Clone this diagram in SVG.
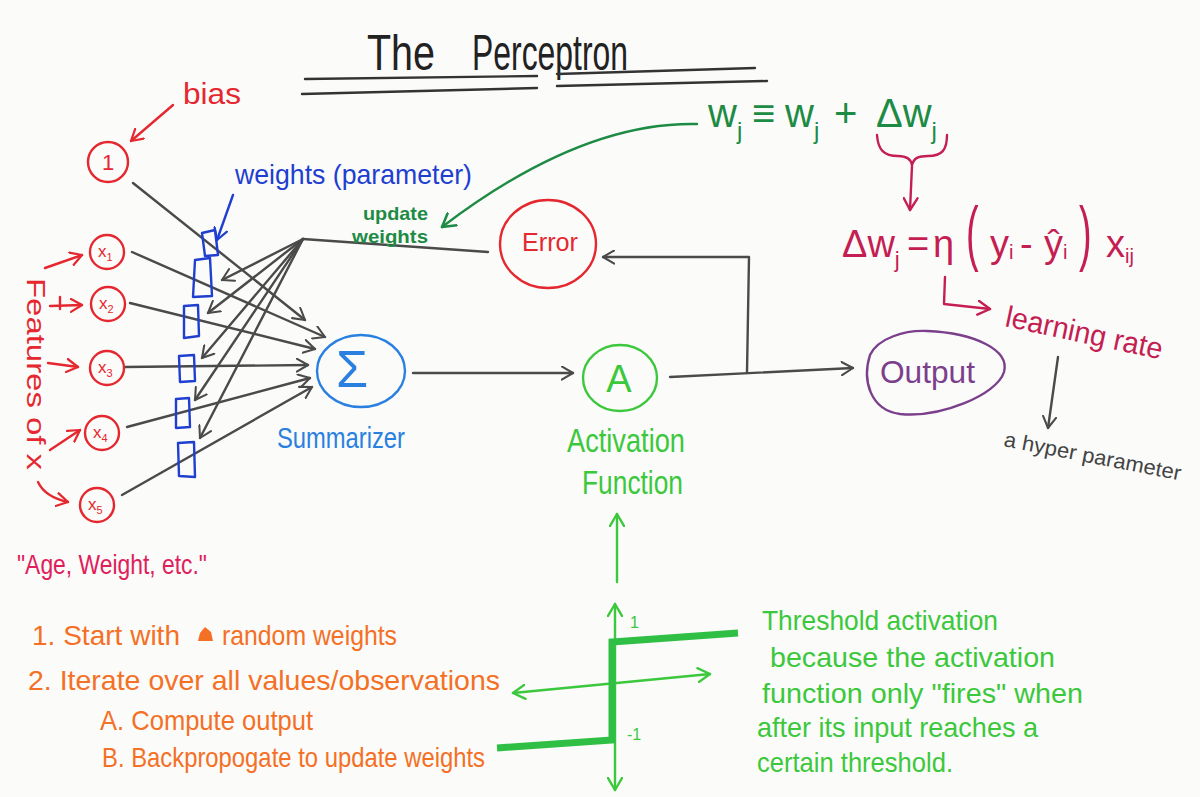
<svg xmlns="http://www.w3.org/2000/svg" width="1200" height="797" viewBox="0 0 1200 797">
<style>
text{font-family:"Liberation Sans",Arial,sans-serif}
.ln{fill:none;stroke-linecap:round;stroke-linejoin:round;stroke-width:2.4}
.gray{stroke:#4a4a4a}
.red{stroke:#e5282f}
.blue{stroke:#1f3fd0}
.lblue{stroke:#2a80e0}
.dgreen{stroke:#1e8b45}
.bgreen{stroke:#3cc83c}
.crim{stroke:#c41e52}
.purp{stroke:#7b3f8c}
.tred{fill:#e5282f}
.tpink{fill:#e0205a}
.tblue{fill:#1f3fd0}
.tlblue{fill:#2a80e0}
.tdgreen{fill:#1e8b45}
.tbgreen{fill:#3cc83c}
.tcrim{fill:#c41e52}
.tpurp{fill:#7b3f8c}
.torange{fill:#f47025}
.tgray{fill:#444}
</style>
<defs>
<marker id="mg" viewBox="0 0 16 16" refX="13" refY="8" markerWidth="15" markerHeight="15" markerUnits="userSpaceOnUse" orient="auto"><path d="M1,1 L13,8 L1,15" fill="none" stroke="#4a4a4a" stroke-width="2.2" stroke-linecap="round" stroke-linejoin="round"/></marker>
<marker id="mr" viewBox="0 0 16 16" refX="13" refY="8" markerWidth="15" markerHeight="15" markerUnits="userSpaceOnUse" orient="auto"><path d="M1,1 L13,8 L1,15" fill="none" stroke="#e5282f" stroke-width="2.4" stroke-linecap="round" stroke-linejoin="round"/></marker>
<marker id="mb" viewBox="0 0 16 16" refX="13" refY="8" markerWidth="15" markerHeight="15" markerUnits="userSpaceOnUse" orient="auto"><path d="M1,1 L13,8 L1,15" fill="none" stroke="#1f3fd0" stroke-width="2.4" stroke-linecap="round" stroke-linejoin="round"/></marker>
<marker id="mdg" viewBox="0 0 16 16" refX="13" refY="8" markerWidth="17" markerHeight="17" markerUnits="userSpaceOnUse" orient="auto"><path d="M1,1 L13,8 L1,15" fill="none" stroke="#1e8b45" stroke-width="2.4" stroke-linecap="round" stroke-linejoin="round"/></marker>
<marker id="mbg" viewBox="0 0 16 16" refX="13" refY="8" markerWidth="16" markerHeight="16" markerUnits="userSpaceOnUse" orient="auto-start-reverse"><path d="M1,1 L13,8 L1,15" fill="none" stroke="#3cc83c" stroke-width="2.4" stroke-linecap="round" stroke-linejoin="round"/></marker>
<marker id="mc" viewBox="0 0 16 16" refX="13" refY="8" markerWidth="16" markerHeight="16" markerUnits="userSpaceOnUse" orient="auto"><path d="M1,1 L13,8 L1,15" fill="none" stroke="#c41e52" stroke-width="2.4" stroke-linecap="round" stroke-linejoin="round"/></marker>
</defs>
<rect width="1200" height="797" fill="#fbfbfa"/>

<g id="title">
<text x="367" y="70" font-size="50" fill="#222" textLength="68" lengthAdjust="spacingAndGlyphs">The</text>
<text x="472" y="70" font-size="50" fill="#222" textLength="156" lengthAdjust="spacingAndGlyphs">Perceptron</text>
<path class="ln" stroke="#333" d="M305,79 L537,76 M557,74 L755,68 M302,94 L537,88 M557,86 L767,81"/>
</g>

<g id="connectors">
<path class="ln gray" marker-end="url(#mg)" d="M133,183 L305,320"/>
<path class="ln gray" marker-end="url(#mg)" d="M132,252 L325,337"/>
<path class="ln gray" marker-end="url(#mg)" d="M130,303 L315,349"/>
<path class="ln gray" marker-end="url(#mg)" d="M125,367 L308,365"/>
<path class="ln gray" marker-end="url(#mg)" d="M127,427 L310,378"/>
<path class="ln gray" marker-end="url(#mg)" d="M122,495 L312,387"/>
<path class="ln gray" d="M488,252 L303,239"/>
<path class="ln gray" marker-end="url(#mg)" d="M303,239 L222,280"/>
<path class="ln gray" marker-end="url(#mg)" d="M303,239 L208,313"/>
<path class="ln gray" marker-end="url(#mg)" d="M303,239 L202,358"/>
<path class="ln gray" marker-end="url(#mg)" d="M303,239 L195,400"/>
<path class="ln gray" marker-end="url(#mg)" d="M303,239 L200,438"/>
<path class="ln gray" marker-end="url(#mg)" d="M413,373 L573,373"/>
<path class="ln gray" marker-end="url(#mg)" d="M670,377 L853,368"/>
<path class="ln gray" marker-end="url(#mg)" d="M747,372 L749,257 L603,257"/>
<path class="ln gray" marker-end="url(#mg)" d="M1058,357 L1048,428"/>
<path class="ln red" marker-end="url(#mr)" d="M173,105 L131,141"/>
<path class="ln red" marker-end="url(#mr)" d="M45,268 L82,255"/>
<path class="ln red" marker-end="url(#mr)" d="M50,306 L82,305"/>
<path class="ln red" d="M60,297 L60,309"/>
<path class="ln red" marker-end="url(#mr)" d="M48,363 L78,367"/>
<path class="ln red" marker-end="url(#mr)" d="M50,450 L80,430"/>
<path class="ln red" marker-end="url(#mr)" d="M38,482 Q45,497 68,502"/>
<path class="ln blue" marker-end="url(#mb)" d="M233,195 L217,240"/>
<path class="ln dgreen" marker-end="url(#mdg)" d="M697,124 C615,122 530,160 442,227"/>
<path class="ln crim" d="M877,135 C878,150 884,156 898,156 C907,156 911,159 912,165 C914,158 918,156 928,156 C942,156 947,150 947,135"/>
<path class="ln crim" marker-end="url(#mc)" d="M912,166 L910,210"/>
<path class="ln crim" marker-end="url(#mc)" d="M945,277 L944,304 L990,309"/>
</g>

<g id="node-bias">
<circle cx="108" cy="162" r="20" class="ln red"/>
<text x="108" y="170" font-size="22" text-anchor="middle" class="tred">1</text>
<text x="183" y="104" font-size="30" class="tred" textLength="58" lengthAdjust="spacingAndGlyphs">bias</text>
</g>

<g id="node-x1"><circle cx="107" cy="252" r="17" class="ln red"/><text x="98" y="257" font-size="17" class="tred">x<tspan font-size="11" dy="4">1</tspan></text></g>
<g id="node-x2"><circle cx="108" cy="304" r="17" class="ln red"/><text x="99" y="309" font-size="17" class="tred">x<tspan font-size="11" dy="4">2</tspan></text></g>
<g id="node-x3"><circle cx="107" cy="368" r="17" class="ln red"/><text x="98" y="373" font-size="17" class="tred">x<tspan font-size="11" dy="4">3</tspan></text></g>
<g id="node-x4"><circle cx="102" cy="433" r="17" class="ln red"/><text x="93" y="438" font-size="17" class="tred">x<tspan font-size="11" dy="4">4</tspan></text></g>
<g id="node-x5"><circle cx="97" cy="505" r="17" class="ln red"/><text x="88" y="510" font-size="17" class="tred">x<tspan font-size="11" dy="4">5</tspan></text></g>

<g id="features-label">
<text transform="translate(27,278) rotate(90)" font-size="26" class="tred" textLength="192" lengthAdjust="spacingAndGlyphs">Features of x</text>
<text x="17" y="574" font-size="28" class="tpink" textLength="190" lengthAdjust="spacingAndGlyphs">"Age, Weight, etc."</text>
</g>

<g id="weights">
<polygon class="ln blue" points="202,233 215,230 218,255 205,256"/>
<polygon class="ln blue" points="195,260 210,258 212,296 193,297"/>
<polygon class="ln blue" points="184,306 198,305 199,336 184,338"/>
<polygon class="ln blue" points="179,356 194,355 195,381 180,382"/>
<polygon class="ln blue" points="176,399 189,398 190,427 176,428"/>
<polygon class="ln blue" points="178,443 194,442 195,477 179,476"/>
<text x="235" y="184" font-size="28" class="tblue" textLength="237" lengthAdjust="spacingAndGlyphs">weights (parameter)</text>
</g>

<g id="update-label">
<text x="363" y="220" font-size="19" font-weight="bold" class="tdgreen" textLength="65" lengthAdjust="spacingAndGlyphs">update</text>
<text x="352" y="243" font-size="19" font-weight="bold" class="tdgreen" textLength="76" lengthAdjust="spacingAndGlyphs">weights</text>
</g>

<g id="node-summarizer">
<ellipse cx="361" cy="371" rx="44" ry="36" class="ln lblue"/>
<text x="336" y="387" font-size="52" class="tlblue">Σ</text>
<text x="277" y="448" font-size="30" class="tlblue" textLength="128" lengthAdjust="spacingAndGlyphs">Summarizer</text>
</g>

<g id="node-error">
<ellipse cx="548" cy="244" rx="48" ry="44" class="ln red"/>
<text x="522" y="251" font-size="26" class="tred" textLength="56" lengthAdjust="spacingAndGlyphs">Error</text>
</g>

<g id="node-activation">
<ellipse cx="620" cy="378" rx="37" ry="33" class="ln bgreen"/>
<text x="619" y="392" font-size="38" text-anchor="middle" class="tbgreen">A</text>
<text x="567" y="452" font-size="34" class="tbgreen" textLength="118" lengthAdjust="spacingAndGlyphs">Activation</text>
<text x="582" y="494" font-size="34" class="tbgreen" textLength="101" lengthAdjust="spacingAndGlyphs">Function</text>
</g>

<g id="node-output">
<path class="ln purp" d="M927,331 C975,333 1010,350 1004,372 C997,395 940,418 900,414 C870,410 862,380 870,355 C878,338 905,330 927,331 Z"/>
<text x="880" y="383" font-size="32" class="tpurp" textLength="95" lengthAdjust="spacingAndGlyphs">Output</text>
</g>

<g id="update-rule">
<text font-size="40" class="tdgreen"><tspan x="708" y="127">w</tspan><tspan font-size="24" dy="12">j</tspan><tspan x="752" y="127">≡</tspan><tspan x="785" y="127">w</tspan><tspan font-size="24" dy="12">j</tspan><tspan x="834" y="127">+</tspan><tspan x="876" y="127">Δw</tspan><tspan font-size="24" dy="12">j</tspan></text>
<text font-size="38" class="tcrim"><tspan x="842" y="257">Δw</tspan><tspan font-size="22" dy="10">j</tspan><tspan x="907" y="257">=</tspan><tspan x="933" y="257">η</tspan><tspan x="990" y="257">y</tspan><tspan font-size="20" dy="2">i</tspan><tspan x="1020" y="257">-</tspan><tspan x="1044" y="257">ŷ</tspan><tspan font-size="20" dy="2">i</tspan><tspan x="1106" y="257">x</tspan><tspan font-size="20" dy="6">ij</tspan></text>
<text transform="translate(966,257) scale(1,1.9)" font-size="38" class="tcrim">(</text>
<text transform="translate(1079,257) scale(1,1.9)" font-size="38" class="tcrim">)</text>
<text transform="translate(1004,326) rotate(12)" font-size="30" class="tcrim" textLength="160" lengthAdjust="spacingAndGlyphs">learning rate</text>
<text transform="translate(1003,446) rotate(11)" font-size="21" class="tgray" textLength="180" lengthAdjust="spacingAndGlyphs">a hyper parameter</text>
</g>

<g id="threshold-plot">
<path class="ln bgreen" marker-end="url(#mbg)" d="M617,582 L617,514"/>
<path class="ln bgreen" marker-start="url(#mbg)" marker-end="url(#mbg)" d="M615,790 L615,604"/>
<path class="ln bgreen" marker-start="url(#mbg)" marker-end="url(#mbg)" d="M513,693 L710,674"/>
<polyline points="497,748 612,740 612,642 738,633" fill="none" stroke="#2fbf45" stroke-width="7" stroke-linejoin="miter"/>
<text x="630" y="628" font-size="16" class="tbgreen">1</text>
<text x="627" y="740" font-size="16" class="tbgreen">-1</text>
</g>

<g id="threshold-note">
<text x="762" y="630" font-size="28" class="tbgreen" textLength="236" lengthAdjust="spacingAndGlyphs">Threshold activation</text>
<text x="770" y="667" font-size="28" class="tbgreen" textLength="285" lengthAdjust="spacingAndGlyphs">because the activation</text>
<text x="762" y="703" font-size="28" class="tbgreen" textLength="321" lengthAdjust="spacingAndGlyphs">function only "fires" when</text>
<text x="757" y="737" font-size="28" class="tbgreen" textLength="281" lengthAdjust="spacingAndGlyphs">after its input reaches a</text>
<text x="757" y="772" font-size="28" class="tbgreen" textLength="196" lengthAdjust="spacingAndGlyphs">certain threshold.</text>
</g>

<g id="steps">
<text x="32" y="645" font-size="28" class="torange" textLength="148" lengthAdjust="spacingAndGlyphs">1. Start with</text>
<path d="M198,641 L200,633 L205,627 L211,632 L213,641 Z" fill="#f47025"/>
<text x="222" y="645" font-size="28" class="torange" textLength="175" lengthAdjust="spacingAndGlyphs">random weights</text>
<text x="28" y="690" font-size="28" class="torange" textLength="472" lengthAdjust="spacingAndGlyphs">2. Iterate over all values/observations</text>
<text x="100" y="730" font-size="28" class="torange" textLength="213" lengthAdjust="spacingAndGlyphs">A. Compute output</text>
<text x="102" y="767" font-size="28" class="torange" textLength="383" lengthAdjust="spacingAndGlyphs">B. Backpropogate to update weights</text>
</g>
</svg>
